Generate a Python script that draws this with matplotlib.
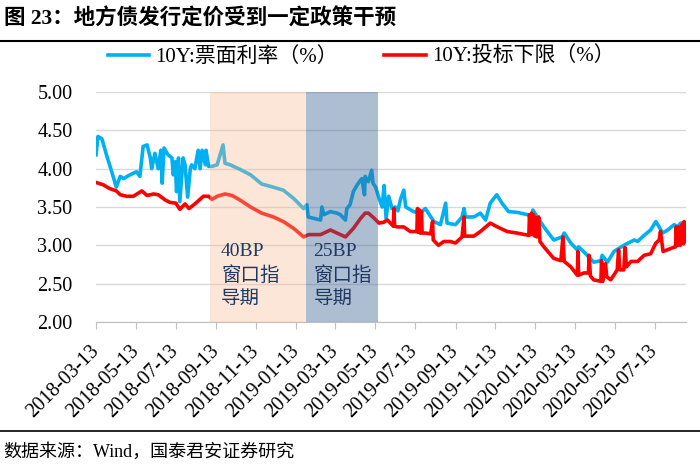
import matplotlib.pyplot as plt
import matplotlib.lines as mlines
import pandas as pd

plt.rcParams['font.family'] = ['Liberation Serif', 'Noto Sans CJK SC']

start = pd.Timestamp('2018-03-13')

# 10Y coupon rate, days since 2018-03-13
cpn_day = [0, 3, 9, 16, 24, 31, 37, 42, 52, 62,
           67, 72, 78, 83, 85, 90, 95, 99, 101, 104,
           110, 116, 118, 121, 123, 126, 128, 133, 136, 140,
           144, 146, 151, 156, 159, 162, 167, 168, 172, 177,
           185, 194, 197, 205, 220, 236, 253, 266, 286, 302,
           317, 322, 324, 343, 345, 348, 358, 368, 373, 381,
           383, 388, 393, 399, 404, 406, 410, 411, 416, 421,
           423, 427, 432, 437, 440, 443, 447, 452, 457, 461,
           465, 470, 473, 485, 495, 503, 516, 526, 534, 536,
           549, 559, 562, 564, 577, 587, 595, 602, 612, 620,
           630, 643, 659, 666, 667, 674, 684, 699, 712, 715,
           725, 735, 737, 748, 760, 771, 773, 781, 791, 806,
           822, 827, 837, 847, 855, 860, 865, 873, 883, 888,
           893, 900]
cpn_val = [4.18, 4.42, 4.39, 4.18, 3.96, 3.76, 3.90, 3.87, 3.92, 3.96,
           3.90, 4.29, 4.31, 4.14, 4.00, 4.20, 4.00, 4.24, 3.81, 4.27,
           4.18, 4.14, 3.92, 4.09, 3.70, 4.14, 3.57, 4.14, 4.05, 3.63,
           4.00, 4.05, 4.00, 4.24, 4.00, 4.24, 4.05, 4.24, 4.03, 4.03,
           4.05, 4.31, 4.07, 4.05, 3.99, 3.92, 3.80, 3.77, 3.72, 3.61,
           3.48, 3.53, 3.37, 3.33, 3.50, 3.40, 3.44, 3.42, 3.40, 3.33,
           3.48, 3.53, 3.70, 3.79, 3.85, 3.87, 3.66, 3.90, 3.83, 3.98,
           3.81, 3.76, 3.62, 3.50, 3.78, 3.35, 3.64, 3.48, 3.50, 3.45,
           3.60, 3.72, 3.50, 3.44, 3.42, 3.48, 3.31, 3.27, 3.55, 3.29,
           3.27, 3.37, 3.48, 3.37, 3.37, 3.42, 3.33, 3.55, 3.66, 3.55,
           3.44, 3.43, 3.40, 3.37, 3.46, 3.37, 3.24, 3.07, 3.11, 3.16,
           3.03, 2.94, 2.98, 2.89, 2.78, 2.80, 2.87, 2.78, 2.92, 3.00,
           3.07, 3.05, 3.13, 3.20, 3.31, 3.24, 3.16, 3.20, 3.27, 3.24,
           3.29, 3.29]

# 10Y bid floor, days since 2018-03-13
bid_day = [0, 11, 21, 31, 37, 47, 57, 70, 78, 88,
           95, 106, 113, 122, 128, 136, 142, 151, 164, 172,
           177, 185, 197, 208, 220, 236, 253, 271, 286, 302,
           317, 325, 343, 358, 368, 381, 393, 404, 411, 416,
           424, 432, 439, 445, 454, 455, 456, 460, 470, 480,
           490, 491, 492, 494, 495, 497, 498, 503, 511, 514,
           515, 523, 531, 541, 549, 559, 562, 563, 577, 587,
           602, 613, 628, 643, 661, 662, 664, 665, 667, 668,
           670, 672, 673, 676, 678, 684, 699, 710, 713, 715,
           725, 735, 736, 737, 745, 752, 753, 755, 760, 771,
           772, 774, 778, 780, 786, 796, 798, 800, 806, 808,
           810, 817, 827, 837, 847, 855, 860, 862, 866, 878,
           885, 886, 888, 890, 892, 895, 897, 898, 900]
bid_val = [3.82, 3.79, 3.74, 3.71, 3.66, 3.64, 3.64, 3.71, 3.65, 3.67,
           3.66, 3.59, 3.56, 3.55, 3.47, 3.54, 3.48, 3.54, 3.64, 3.64,
           3.60, 3.64, 3.67, 3.65, 3.59, 3.50, 3.42, 3.37, 3.31, 3.22,
           3.11, 3.14, 3.14, 3.20, 3.16, 3.11, 3.22, 3.35, 3.42, 3.42,
           3.36, 3.29, 3.30, 3.33, 3.25, 3.48, 3.25, 3.24, 3.24, 3.18,
           3.18, 3.48, 3.17, 3.46, 3.16, 3.44, 3.16, 3.16, 3.15, 3.31,
           3.07, 3.00, 3.05, 3.05, 3.03, 3.11, 3.37, 3.12, 3.12, 3.18,
           3.29, 3.24, 3.18, 3.16, 3.13, 3.40, 3.14, 3.42, 3.14, 3.40,
           3.12, 3.36, 3.11, 3.37, 3.05, 2.98, 2.83, 2.80, 3.11, 2.79,
           2.72, 2.61, 2.92, 2.61, 2.64, 2.64, 2.87, 2.60, 2.55, 2.53,
           2.80, 2.53, 2.76, 2.59, 2.55, 2.68, 2.94, 2.68, 2.68, 2.97,
           2.72, 2.79, 2.79, 2.87, 2.89, 3.03, 3.07, 3.18, 2.92, 2.96,
           2.98, 3.24, 3.00, 3.24, 3.00, 3.27, 3.02, 3.31, 3.05]

tick_labels = ['2018-03-13', '2018-05-13', '2018-07-13', '2018-09-13',
               '2018-11-13', '2019-01-13', '2019-03-13', '2019-05-13',
               '2019-07-13', '2019-09-13', '2019-11-13', '2020-01-13',
               '2020-03-13', '2020-05-13', '2020-07-13']
y_ticks = [2.0, 2.5, 3.0, 3.5, 4.0, 4.5, 5.0]

# policy windows
window_40bp = ('2018-09-03', '2019-01-27')
window_25bp = ('2019-01-27', '2019-05-17')

cpn_dates = start + pd.to_timedelta(cpn_day, unit='D')
bid_dates = start + pd.to_timedelta(bid_day, unit='D')

fig = plt.figure(figsize=(7, 4.66), dpi=100)
ax = fig.add_axes([96 / 700, 1 - 322 / 466, 590 / 700, 230 / 466])

ax.plot(cpn_dates, cpn_val, color='#00B0F0', lw=2.6, zorder=3,
        solid_joinstyle='round', label='10Y:票面利率（%）')
ax.plot(bid_dates, bid_val, color='#FF0000', lw=2.6, zorder=3,
        solid_joinstyle='round', label='10Y:投标下限（%）')

# shaded windows drawn over the lines, like the original
ax.axvspan(pd.Timestamp(window_40bp[0]), pd.Timestamp(window_40bp[1]),
           color='#F6BD93', alpha=0.37, lw=0, zorder=4)
ax.axvspan(pd.Timestamp(window_25bp[0]), pd.Timestamp(window_25bp[1]),
           color='#3C6494', alpha=0.42, lw=0, zorder=4)

ax.text(pd.Timestamp(window_40bp[0]) + pd.Timedelta(days=17), 3.03,
        '40BP\n窗口指\n导期', color='#1F3864', fontsize=14,
        va='top', ha='left', linespacing=1.45, zorder=5)
ax.text(pd.Timestamp(window_25bp[0]) + pd.Timedelta(days=12), 3.03,
        '25BP\n窗口指\n导期', color='#1F3864', fontsize=14,
        va='top', ha='left', linespacing=1.45, zorder=5)

ax.set_ylim(2, 5)
ax.set_xlim(start, start + pd.Timedelta(days=901))
ax.set_yticks(y_ticks)
ax.set_yticklabels([f'{v:.2f}' for v in y_ticks], fontsize=14.5)
ax.set_xticks(pd.to_datetime(tick_labels))
ax.set_xticklabels(tick_labels, fontsize=14.5, rotation=45,
                   ha='right', va='center', rotation_mode='anchor')

ax.yaxis.grid(True, color='#D9D9D9', lw=1)
ax.set_axisbelow(True)
for side in ['left', 'right', 'top']:
    ax.spines[side].set_visible(False)
ax.spines['bottom'].set_color('#BFBFBF')
ax.tick_params(axis='y', length=0, pad=17)
ax.tick_params(axis='x', length=5, color='#BFBFBF', pad=14)

fig.legend(loc='center', bbox_to_anchor=(0.516, 1 - 57 / 466), ncol=2,
           frameon=False, fontsize=15, handlelength=2.0, columnspacing=2.2,
           handletextpad=0.3)

fig.text(0.006, 1 - 19 / 466, '图 23：地方债发行定价受到一定政策干预',
         fontsize=15.5, fontweight='bold', va='center', ha='left')
fig.add_artist(mlines.Line2D([0, 1], [1 - 41 / 466, 1 - 41 / 466],
                             color='black', lw=1.5))
fig.add_artist(mlines.Line2D([0, 1], [1 - 431 / 466, 1 - 431 / 466],
                             color='black', lw=1.2))
fig.text(0.005, 1 - 452 / 466, '数据来源：Wind，国泰君安证券研究',
         fontsize=13, va='center', ha='left')

fig.savefig('out.png', dpi=100)
